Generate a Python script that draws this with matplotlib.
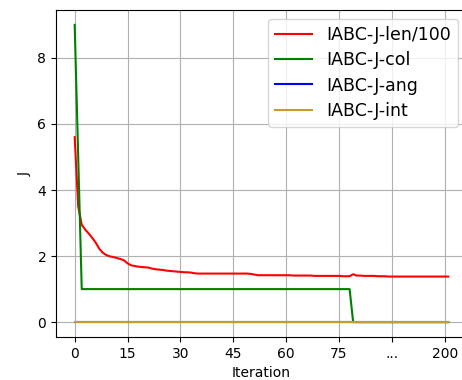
import matplotlib
matplotlib.use("Agg")
import matplotlib.pyplot as plt

# J values per iteration
j_len = [5.60, 3.50, 2.95, 2.80, 2.68, 2.55, 2.40, 2.22, 2.10, 2.03,
         1.99, 1.97, 1.94, 1.91, 1.87, 1.78, 1.72, 1.70, 1.68, 1.67,
         1.66, 1.65, 1.62, 1.60, 1.59, 1.58, 1.56, 1.55, 1.54, 1.53,
         1.52, 1.51, 1.51, 1.50, 1.48, 1.47, 1.47, 1.47, 1.47, 1.47,
         1.47, 1.47, 1.47, 1.47, 1.47, 1.47, 1.47, 1.47, 1.47, 1.47,
         1.46, 1.44, 1.42, 1.42, 1.42, 1.42, 1.42, 1.42, 1.42, 1.42,
         1.42, 1.42, 1.41, 1.41, 1.41, 1.41, 1.41, 1.41, 1.40, 1.40,
         1.40, 1.40, 1.40, 1.40, 1.40, 1.40, 1.39, 1.39, 1.39, 1.45,
         1.41, 1.41, 1.40, 1.40, 1.40, 1.40, 1.39, 1.39, 1.39, 1.38,
         1.38, 1.38, 1.38, 1.38, 1.38, 1.38, 1.38, 1.38, 1.38, 1.38,
         1.38, 1.38, 1.38, 1.38, 1.38, 1.38, 1.38]
j_col = [9, 5] + [1] * 77 + [0] * 28
j_ang = [0] * 107
j_int = [0] * 107

tick_pos = [0, 15, 30, 45, 60, 75, 90, 105]
tick_lab = ['0', '15', '30', '45', '60', '75', '...', '200']

fig = plt.figure(figsize=(4.62, 3.8), dpi=100)
# the right spine sits just outside the saved picture
ax = fig.add_axes([56 / 462, 43 / 380, 411 / 462, 327 / 380])

ax.plot(j_len, color='red', label='IABC-J-len/100')
ax.plot(j_col, color='green', label='IABC-J-col')
ax.plot(j_ang, color='blue', label='IABC-J-ang')
ax.plot(j_int, color='#c89b2e', label='IABC-J-int')

ax.set_xticks(tick_pos)
ax.set_xticklabels(tick_lab)
ax.set_xlabel('Iteration')
ax.set_ylabel('J')
ax.grid(True)
ax.legend(loc='upper right', fontsize=12.5, labelspacing=0.43,
          handlelength=2.1, handletextpad=0.85)

fig.savefig('out.png', dpi=100)
